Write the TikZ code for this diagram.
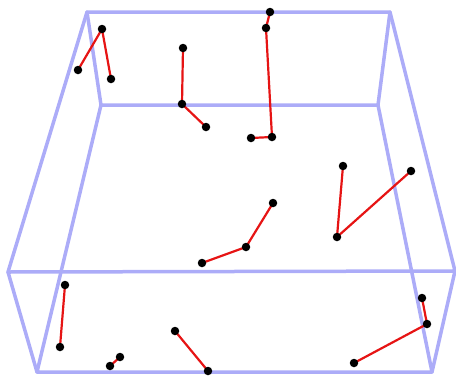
\documentclass[tikz,border=0pt]{standalone}
\definecolor{boxc}{RGB}{172,172,248}
\definecolor{segc}{RGB}{230,20,20}
\tikzset{
  dot/.style={circle,fill=black,inner sep=0pt,minimum size=8.5pt},
  edge/.style={draw=boxc,line width=3.5pt,line cap=round,line join=round},
  seg/.style={draw=segc,line width=2.2pt}
}
\begin{document}
\begin{tikzpicture}[x=1pt,y=-1pt]
\useasboundingbox (0,0) rectangle (456,376);
% box corners
\coordinate (t1) at (87,12);
\coordinate (t2) at (390,12);
\coordinate (t3) at (455,271);
\coordinate (t4) at (8,272);
\coordinate (b1) at (101,105);
\coordinate (b2) at (378,105);
\coordinate (b3) at (432,372);
\coordinate (b4) at (37,372);
\draw[edge] (t1) -- (t2) -- (t3) -- (t4) -- cycle;
\draw[edge] (b1) -- (b2) -- (b3) -- (b4) -- cycle;
\draw[edge] (t1) -- (b1);
\draw[edge] (t2) -- (b2);
\draw[edge] (t3) -- (b3);
\draw[edge] (t4) -- (b4);
% points
\coordinate (a1) at (102,29);
\coordinate (a2) at (78,70);
\coordinate (a3) at (111,79);
\coordinate (c1) at (183,48);
\coordinate (c2) at (182,104);
\coordinate (c3) at (206,127);
\coordinate (d1) at (270,12);
\coordinate (d2) at (266,28);
\coordinate (d3) at (272,137);
\coordinate (d4) at (251,138);
\coordinate (e1) at (343,166);
\coordinate (e2) at (337,237);
\coordinate (e3) at (411,171);
\coordinate (f1) at (273,203);
\coordinate (f2) at (246,247);
\coordinate (f3) at (202,263);
\coordinate (g1) at (65,285);
\coordinate (g2) at (60,347);
\coordinate (h1) at (120,357);
\coordinate (h2) at (110,366);
\coordinate (i1) at (175,331);
\coordinate (i2) at (208,371);
\coordinate (j1) at (422,298);
\coordinate (j2) at (427,324);
\coordinate (j3) at (354,363);
\draw[seg] (a2) -- (a1) -- (a3);
\draw[seg] (c1) -- (c2) -- (c3);
\draw[seg] (d1) -- (d2) -- (d3) -- (d4);
\draw[seg] (e1) -- (e2) -- (e3);
\draw[seg] (f1) -- (f2) -- (f3);
\draw[seg] (g1) -- (g2);
\draw[seg] (h1) -- (h2);
\draw[seg] (i1) -- (i2);
\draw[seg] (j1) -- (j2) -- (j3);
\foreach \p in {a1,a2,a3,c1,c2,c3,d1,d2,d3,d4,e1,e2,e3,f1,f2,f3,g1,g2,h1,h2,i1,i2,j1,j2,j3}
  \node[dot] (n\p) at (\p) {};
\end{tikzpicture}
\end{document}
